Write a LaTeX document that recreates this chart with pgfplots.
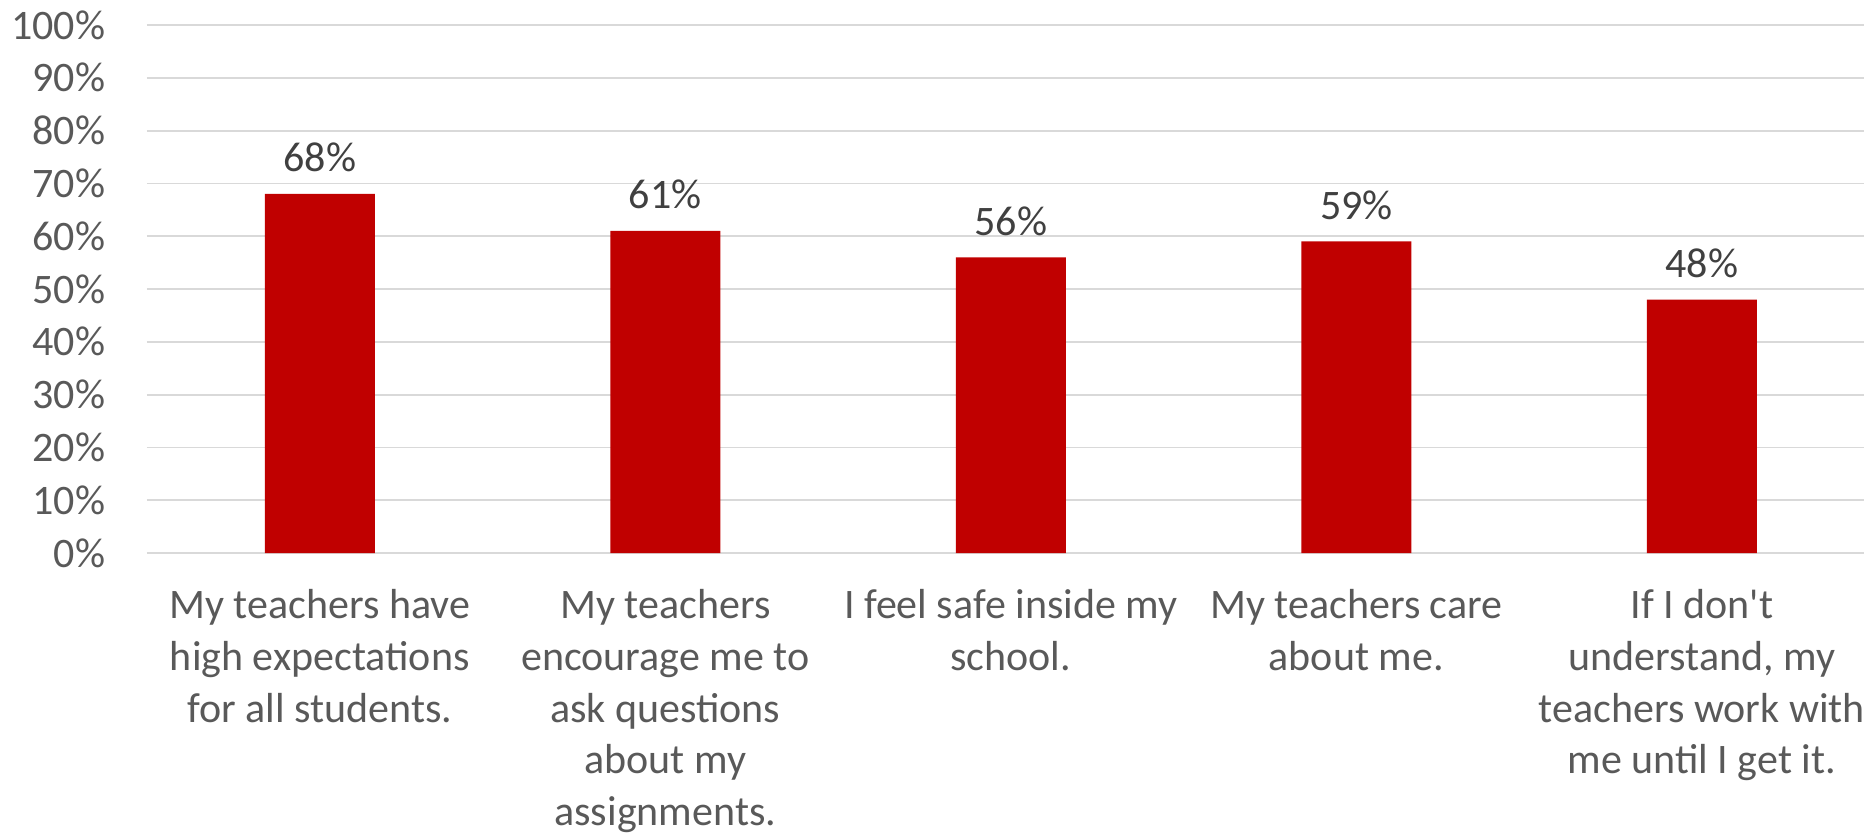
\documentclass[border=0pt]{standalone}
\usepackage{pgfplots}
\pgfplotsset{compat=1.18}
\usepackage{fontspec}
\setmainfont{Carlito}[Ligatures=TeXOff]
\definecolor{barred}{HTML}{C00000}
\definecolor{ticktext}{HTML}{595959}
\definecolor{labtext}{HTML}{404040}
\definecolor{gridc}{HTML}{D9D9D9}
\begin{document}
\begin{tikzpicture}
\begin{axis}[
  at={(0,0)}, anchor=south west,
  scale only axis,
  width=431.9pt, height=132pt,
  xmin=-0.5, xmax=4.5,
  ymin=0, ymax=100,
  /pgf/number format/assume math mode=true,
  font=\fontsize{10.5}{12.9}\selectfont,
  axis line style={draw=none},
  major tick length=0pt,
  ytick={0,10,...,100},
  yticklabels={0\%,10\%,20\%,30\%,40\%,50\%,60\%,70\%,80\%,90\%,100\%},
  ymajorgrids,
  grid style={gridc, line width=0.45pt},
  yticklabel style={anchor=east, inner sep=0pt, xshift=-10.25pt, text=ticktext},
  xtick=data,
  xticklabels={
    {My teachers have\\high expectations\\for all students.},
    {My teachers\\encourage me to\\ask questions\\about my\\assignments.},
    {I feel safe inside my\\school.},
    {My teachers care\\about me.},
    {If I don't\\understand, my\\teachers work with\\me until I get it.}},
  xticklabel style={anchor=north, align=center, inner sep=0pt, yshift=-9pt, text=ticktext},
  ybar, bar width=27.5pt,
  nodes near coords={\pgfmathprintnumber{\pgfplotspointmeta}\%},
  every node near coord/.append style={anchor=south, inner sep=0pt, yshift=5.25pt, text=labtext, font=\fontsize{10.5}{12.9}\selectfont},
  clip=false,
]
\addplot[fill=barred, draw=none] coordinates {(0,68) (1,61) (2,56) (3,59) (4,48)};
\end{axis}
\pgfresetboundingbox
\useasboundingbox (-36.75pt,-70.75pt) rectangle (429.25pt,138.25pt);
\end{tikzpicture}
\end{document}
